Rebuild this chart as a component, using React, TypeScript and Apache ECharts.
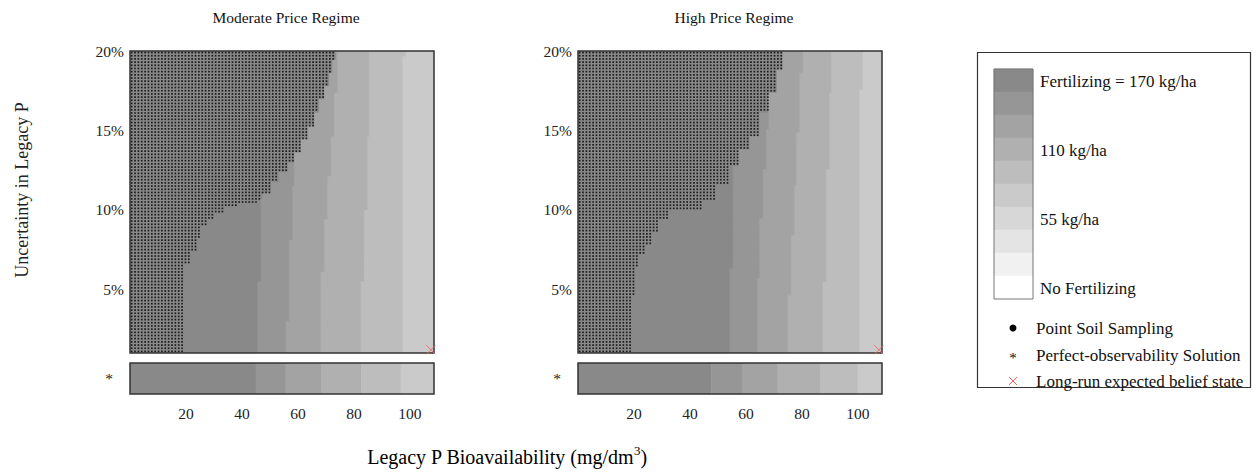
import React, { useEffect, useRef } from "react";
import * as echarts from "echarts";

const FONT = "'Liberation Serif', 'Times New Roman', serif";

const X_MIN = 0;
const X_MAX = 108.6;
const Y_MIN = 1;
const Y_MAX = 20;

const panelTitles = ["Moderate Price Regime", "High Price Regime"];

// Grey ramp of the fertilizing-rate classes, 170 kg/ha (dark) down to no fertilizing (white)
const rateColors = [
  "#898989", "#969696", "#a3a3a3", "#b0b0b0", "#bdbdbd",
  "#cacaca", "#d7d7d7", "#e4e4e4", "#f1f1f1", "#ffffff",
];
const rateLabels = [
  "Fertilizing = 170 kg/ha", "", "", "110 kg/ha", "", "", "55 kg/ha", "", "", "No Fertilizing",
];

const yTicks = [5, 10, 15, 20];
const xTicks = [20, 40, 60, 80, 100];

// Rate-class boundaries (mg/dm³) as steps over uncertainty: [upper uncertainty %, boundary]
const moderateBoundaries = [
  [[5.5, 45.6], [20, 46.8]],
  [[3.0, 55.7], [8.1, 56.9], [11.5, 58.1], [13.8, 58.7], [20, 59.9]],
  [[6.1, 68.2], [9.4, 69.4], [12.1, 70.6], [14.6, 71.8], [17.35, 73.0], [20, 74.2]],
  [[5.5, 82.5], [10.0, 83.7], [14.6, 84.9], [20, 85.5]],
  [[19.65, 97.4], [20, 98.6]],
];
const highBoundaries = [
  [[6.31, 54.2], [20, 55.4]],
  [[5.69, 64.1], [9.44, 64.9], [12.56, 66.1], [15.06, 67.3], [20, 68.2]],
  [[4.64, 75.0], [8.4, 76.2], [11.52, 77.4], [14.85, 78.0], [18.6, 79.2], [20, 80.4]],
  [[5.48, 87.5], [12.56, 88.7], [17.35, 89.9], [20, 90.5]],
  [[17.56, 100.6], [20, 101.8]],
];

// Upper edge of the region where point soil sampling is chosen: [upper uncertainty %, edge]
const moderateSampling = [
  [6.52, 19.6], [7.35, 21.8], [8.19, 23.6], [9.02, 25.6], [9.44, 27.7], [9.85, 30.1],
  [10.17, 33.7], [10.38, 38.5], [10.48, 43.2], [10.69, 45.6], [11.1, 47.4], [11.73, 50.4],
  [12.35, 53.3], [12.98, 56.3], [13.6, 58.7], [14.44, 61.1], [15.27, 63.5], [16.1, 65.8],
  [16.94, 67.6], [17.77, 69.4], [18.6, 71.2], [19.44, 72.4], [20, 73.6],
];
const highSampling = [
  [4.64, 19.6], [6.31, 20.6], [7.14, 22.0], [7.77, 23.8], [8.6, 26.2], [9.44, 29.2],
  [9.96, 32.8], [10.06, 41.1], [10.69, 44.7], [11.52, 49.4], [12.77, 54.2], [13.81, 57.2],
  [14.65, 61.3], [16.1, 64.9], [17.35, 67.9], [18.81, 71.1], [20, 73.2],
];

// Perfect-observability solution: class boundaries along P bioavailability
const moderatePerfect = [45.0, 55.7, 68.5, 82.7, 96.8];
const highPerfect = [47.6, 58.6, 71.4, 86.7, 100.0];

// Long-run expected belief state [mg/dm³, %]
const longRunState = [107.5, 1.2];

// State grid of the belief model
const stateStepX = 1.2;
const stateStepY = 0.2;

function stepValue(steps: number[][], y: number): number {
  for (const [upper, x] of steps) if (y <= upper) return x;
  return steps[steps.length - 1][1];
}

// For every rate class, the polygon of states at or above its lower boundary;
// classes are painted in order so each one covers the previous.
function buildBandPolygons(boundaries: number[][][], sampling: number[][]) {
  const cuts = new Set<number>([Y_MIN, Y_MAX]);
  [...boundaries.flat(), ...sampling].forEach(([u]) => {
    if (u > Y_MIN && u < Y_MAX) cuts.add(u);
  });
  const ys = [...cuts].sort((a, b) => a - b);
  const polys: number[][][] = [[[X_MIN, Y_MIN], [X_MIN, Y_MAX], [X_MAX, Y_MAX], [X_MAX, Y_MIN]]];
  boundaries.forEach((b) => {
    const pts: number[][] = [];
    for (let i = 0; i < ys.length - 1; i++) {
      const ym = (ys[i] + ys[i + 1]) / 2;
      const x = Math.max(stepValue(b, ym), stepValue(sampling, ym));
      pts.push([x, ys[i]], [x, ys[i + 1]]);
    }
    pts.push([X_MAX, Y_MAX], [X_MAX, Y_MIN]);
    polys.push(pts);
  });
  return polys;
}

function buildSamplingPoints(sampling: number[][]) {
  const pts: number[][] = [];
  const nx = Math.floor((X_MAX - X_MIN) / stateStepX);
  const ny = Math.floor((Y_MAX - Y_MIN) / stateStepY);
  for (let j = 0; j < ny; j++) {
    const y = Y_MIN + stateStepY * (j + 0.5);
    const edge = stepValue(sampling, y);
    for (let i = 0; i < nx; i++) {
      const x = X_MIN + stateStepX * (i + 0.5);
      if (x < edge) pts.push([x, y]);
    }
  }
  return pts;
}

function buildStrip(bounds: number[]) {
  const xs = [X_MIN, ...bounds, X_MAX];
  return xs.slice(0, -1).map((x, k) => [x, xs[k + 1], k]);
}

const panels = [
  { title: panelTitles[0], boundaries: moderateBoundaries, sampling: moderateSampling, perfect: moderatePerfect },
  { title: panelTitles[1], boundaries: highBoundaries, sampling: highSampling, perfect: highPerfect },
];

const panelLeft = [130, 578];
const plotWidth = 304;

function stripRender(params: any, api: any) {
  const k = api.value(2);
  const p0 = api.coord([api.value(0), 0]);
  const p1 = api.coord([api.value(1), 0]);
  const h = api.size([0, 1])[1];
  const c = rateColors[k];
  return {
    type: "rect",
    shape: { x: p0[0], y: p0[1] - h / 2, width: p1[0] - p0[0], height: h },
    style: { fill: c, stroke: c, lineWidth: 0.6 },
  };
}

function buildOption() {
  const grids: any[] = [];
  const xAxes: any[] = [];
  const yAxes: any[] = [];
  const series: any[] = [];
  const titles: any[] = [];
  const tickLabel = { fontFamily: FONT, fontSize: 15.5, color: "#222" };

  panels.forEach((p, i) => {
    const left = panelLeft[i];
    const gMain = i * 2;
    const gStrip = i * 2 + 1;
    grids.push({
      left, top: 51, width: plotWidth, height: 302,
      show: true, z: 3, borderColor: "#333", borderWidth: 1.5, backgroundColor: "transparent",
    });
    grids.push({
      left, top: 363, width: plotWidth, height: 31,
      show: true, z: 3, borderColor: "#333", borderWidth: 1.5, backgroundColor: "transparent",
    });
    titles.push({
      text: p.title, left: left + plotWidth / 2 - 1, top: 4, textAlign: "center",
      textStyle: { fontFamily: FONT, fontSize: 15.5, fontWeight: "normal", color: "#111" },
    });
    xAxes.push({
      gridIndex: gMain, type: "value", min: X_MIN, max: X_MAX,
      axisLine: { show: false }, axisTick: { show: false }, axisLabel: { show: false }, splitLine: { show: false },
    });
    xAxes.push({
      gridIndex: gStrip, type: "value", min: X_MIN, max: X_MAX,
      axisLine: { show: false }, axisTick: { show: false }, splitLine: { show: false },
      axisLabel: { ...tickLabel, margin: 11, customValues: xTicks },
    });
    yAxes.push({
      gridIndex: gMain, type: "value", min: Y_MIN, max: Y_MAX,
      axisLine: { show: false }, axisTick: { show: false }, splitLine: { show: false },
      axisLabel: { ...tickLabel, margin: 6, customValues: yTicks, formatter: (v: number) => `${v}%` },
    });
    yAxes.push({
      gridIndex: gStrip, type: "category", data: ["*"],
      axisLine: { show: false }, axisTick: { show: false }, splitLine: { show: false },
      axisLabel: { ...tickLabel, margin: 17 },
    });

    const polys = buildBandPolygons(p.boundaries, p.sampling);
    series.push({
      type: "custom", name: "Fertilizing rate", xAxisIndex: gMain, yAxisIndex: gMain,
      data: polys.map((_, k) => [k]),
      renderItem: (params: any, api: any) => {
        const k = api.value(0);
        const c = rateColors[k];
        return {
          type: "polygon",
          shape: { points: polys[k].map((pt) => api.coord(pt)) },
          style: { fill: c, stroke: c, lineWidth: 0.5 },
        };
      },
      encode: { x: [] as number[], y: [] as number[] }, clip: true, silent: true, z: 1,
    });
    series.push({
      type: "scatter", name: "Point Soil Sampling", xAxisIndex: gMain, yAxisIndex: gMain,
      data: buildSamplingPoints(p.sampling), symbol: "rect", symbolSize: 1.7,
      itemStyle: { color: "#000" }, silent: true, progressive: 0, progressiveThreshold: 100000,
      large: false, z: 2,
    });
    series.push({
      type: "custom", name: "Perfect-observability Solution", xAxisIndex: gStrip, yAxisIndex: gStrip,
      data: buildStrip(p.perfect), renderItem: stripRender, encode: { x: [0, 1] }, clip: true, silent: true, z: 1,
    });
    series.push({
      type: "scatter", name: "Long-run expected belief state", xAxisIndex: gMain, yAxisIndex: gMain,
      data: [longRunState], symbol: "path://M0,0L10,10M10,0L0,10", symbolSize: 9, clip: false,
      itemStyle: { color: "none", borderColor: "#ff5c5c", borderWidth: 1 }, silent: true, z: 5,
    });
  });

  // Legend box with the colour bar and the marker key
  const barX = 994;
  const barY = 69;
  const bandH = 23;
  const barW = 39;
  const legendText = { fontFamily: FONT, fontSize: 17, fill: "#111" };
  const graphic: any[] = [
    { type: "rect", shape: { x: 977.5, y: 52.5, width: 273, height: 335 }, style: { fill: "#fff", stroke: "#333", lineWidth: 1.2 }, z: 0 },
  ];
  rateColors.forEach((c, i) => {
    graphic.push({ type: "rect", shape: { x: barX, y: barY + i * bandH, width: barW, height: bandH }, style: { fill: c, stroke: c, lineWidth: 0.5 }, z: 1 });
    if (rateLabels[i]) {
      graphic.push({
        type: "text", x: 1040, y: barY + i * bandH + bandH / 2 + 1, z: 2,
        style: { ...legendText, text: rateLabels[i], verticalAlign: "middle" },
      });
    }
  });
  graphic.push({ type: "rect", shape: { x: barX, y: barY, width: barW, height: bandH * rateColors.length }, style: { fill: "none", stroke: "#777", lineWidth: 1 }, z: 2 });

  const keyRows = [
    { label: "Point Soil Sampling", y: 328 },
    { label: "Perfect-observability Solution", y: 355 },
    { label: "Long-run expected belief state", y: 381 },
  ];
  graphic.push({ type: "circle", shape: { cx: 1013, cy: keyRows[0].y, r: 3.5 }, style: { fill: "#000" }, z: 2 });
  graphic.push({ type: "text", x: 1013, y: keyRows[1].y + 3, z: 2, style: { ...legendText, fontSize: 15, text: "*", align: "center", verticalAlign: "middle" } });
  graphic.push({ type: "line", shape: { x1: 1009, y1: keyRows[2].y - 4, x2: 1017, y2: keyRows[2].y + 4 }, style: { stroke: "#ff5c5c", lineWidth: 1 }, z: 2 });
  graphic.push({ type: "line", shape: { x1: 1017, y1: keyRows[2].y - 4, x2: 1009, y2: keyRows[2].y + 4 }, style: { stroke: "#ff5c5c", lineWidth: 1 }, z: 2 });
  keyRows.forEach((r) => {
    graphic.push({ type: "text", x: 1036, y: r.y, z: 2, style: { ...legendText, text: r.label, verticalAlign: "middle" } });
  });

  // Shared axis titles
  graphic.push({
    type: "text", x: 22, y: 190, rotation: Math.PI / 2, z: 2,
    style: { fontFamily: FONT, fontSize: 18, fill: "#222", text: "Uncertainty in Legacy P", align: "center", verticalAlign: "middle" },
  });
  graphic.push({
    type: "text", x: 507, y: 457, z: 2,
    style: {
      text: "{a|Legacy P Bioavailability (mg/dm}{s|3}{a|)}",
      align: "center", verticalAlign: "middle",
      rich: {
        a: { fontFamily: FONT, fontSize: 20, color: "#222" },
        s: { fontFamily: FONT, fontSize: 13, color: "#222", padding: [0, 0, 14, 0] },
      },
    },
  });

  return {
    animation: false,
    backgroundColor: "#fff",
    title: titles,
    grid: grids,
    xAxis: xAxes,
    yAxis: yAxes,
    series,
    graphic,
  };
}

export default function App() {
  const ref = useRef<HTMLDivElement>(null);
  useEffect(() => {
    document.body.style.margin = "0";
    if (!ref.current) return;
    const chart = echarts.init(ref.current, undefined, { renderer: "svg" });
    chart.setOption(buildOption());
    return () => chart.dispose();
  }, []);
  return <div ref={ref} style={{ width: 1256, height: 475 }} />;
}
